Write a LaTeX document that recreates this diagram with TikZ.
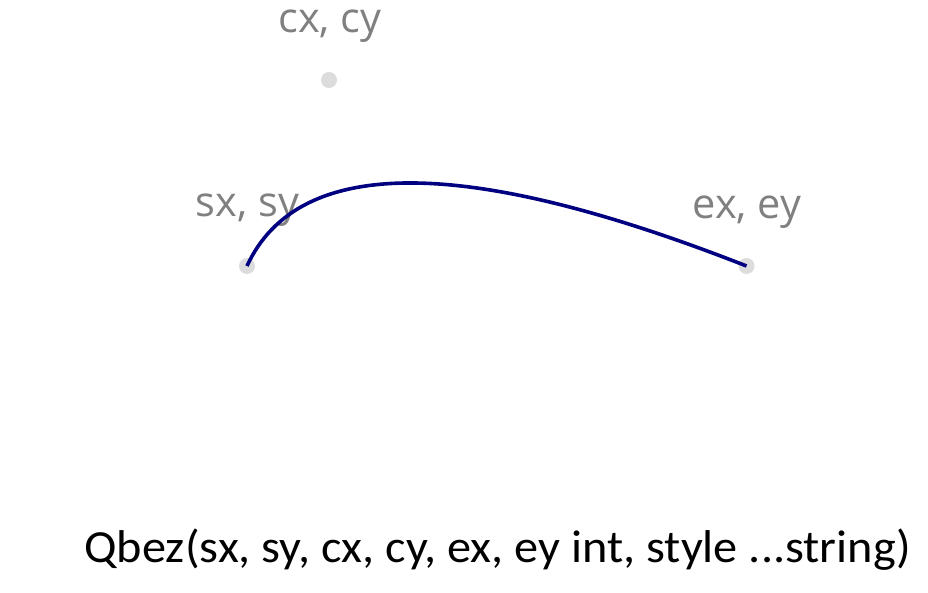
\documentclass[tikz,border=0pt]{standalone}
\usepackage{graphicx}
\usepackage{fontspec}
\setmainfont{Carlito}
\newfontfamily\labelfont{Open Sans}
\definecolor{labelgray}{RGB}{128,128,128}
\definecolor{dotgray}{RGB}{220,220,220}
\definecolor{curvenavy}{RGB}{0,0,128}
\begin{document}
\begin{tikzpicture}[x=1pt,y=-1pt,
  dotpt/.style={circle,fill=dotgray,inner sep=0pt,minimum size=16pt},
  ptlabel/.style={anchor=base,inner sep=0pt,text=labelgray,font=\labelfont\fontsize{41.5}{48}\selectfont},
  caption/.style={anchor=base,inner sep=0pt,font=\fontsize{46}{54}\selectfont}]
\useasboundingbox (0,0) rectangle (928,593);
\node[dotpt] (cdot) at (329,80) {};
\node[dotpt] (sdot) at (247,266) {};
\node[dotpt] (edot) at (746.5,266) {};
\node[ptlabel] (clab) at (330,32.5) {cx, cy};
\node[ptlabel] (slab) at (247.5,217) {sx, sy};
\node[ptlabel] (elab) at (747,219) {ex, ey};
\coordinate (k1) at (298,155.3);
\coordinate (k2) at (464.5,155.3);
\draw[curvenavy,line width=3.6pt] (sdot.center) .. controls (k1) and (k2) .. (edot.center);
\node[caption] (cap) at (497.5,562) {\scalebox{1.05}[1]{Qbez(sx, sy, cx, cy, ex, ey int, style ...string)}};
\end{tikzpicture}
\end{document}
